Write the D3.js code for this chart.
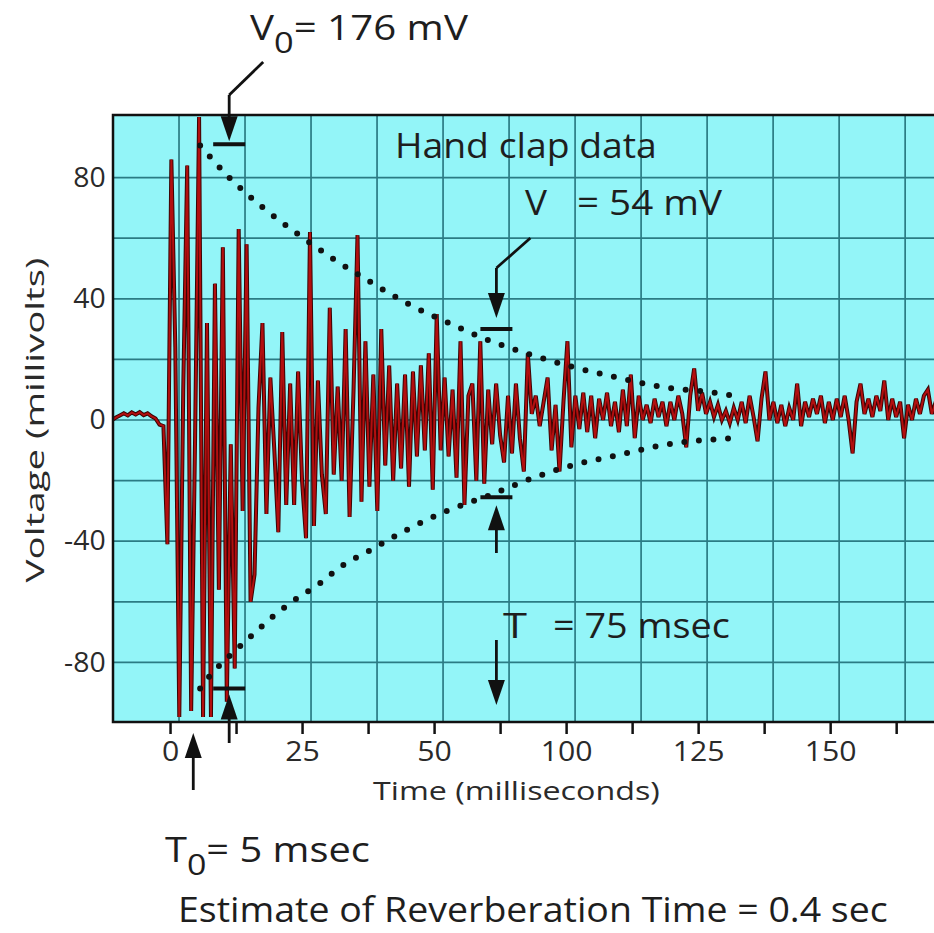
<!DOCTYPE html>
<html>
<head>
<meta charset="utf-8">
<script src="https://cdn.jsdelivr.net/npm/d3@7"></script>
<style>
  body { margin: 0; background: #fff; }
  svg { display: block; font-family: "Open Sans", sans-serif; }
</style>
</head>
<body>
<div id="chart"></div>
<script>
// hand clap recording, sampled every 0.75 ms starting at -11 ms (values in mV)
const signalStart = -11;
const signalStep = 0.75;
const signalValues = [
  0, 0.8, 1.5, 2.2, 1.5, 2.5, 1.8, 2.6, 1.6, 2.2, 1.2, 0.5, -1.5, -2,
  -41, 86, 24, -98, 10, 84, -96, -5, 100, -98, 32, -98, 45, -56, 57, -93,
  -8, -82, 63, -30, 58, -60, -51, 4, 32, -31, 14, -10, -37, 29, -28, 12,
  -28, 16, -20, -39, 62, -35, 13, -18, -31, 37, -18, 11, -20, 30, -32, 10,
  61, -27, 26, -22, 15, -30, 30, -15, 18, -20, 12, -16, 15, -22, 16, -12,
  18, -10, 22, -23, 35, -10, 14, -12, 10, -19, 26, -28, 8, 12, -20, 26,
  -21, 10, -8, 12, -5, -14, 8, -11, 12, -6, -17, 22, 2, 8, -2, 6,
  14, -10, 5, -17, 6, 26, -9, 8, -3, 9, -4, 8, -6, 7, 0, 9,
  -2, 6, -4, 10, -2, 15, -6, 8, 0, 5, -1, 7, 1, 6, -2, 6,
  0, 8, 2, -9, 8, 17, 3, 9, 2, 6, 1, 5, 0, 3, -1, 4,
  0, 6, -1, 8, 1, -7, 7, 16, 0, 6, -1, 5, -2, 4, 0, 12,
  -2, 6, 1, 7, 2, 8, -1, 6, 0, 7, 1, 8, 0, -11, 6, 12,
  2, 7, 1, 8, 3, 13, 0, 7, 1, 6, -6, 5, 0, 7, 2, 8,
  10, 2, 6, 3
];

// dotted decay envelopes [ms, mV]
const upperEnvelope = [
  [5.7, 90.6], [11.4, 79.7], [17.4, 70.4], [24.1, 61.5], [30.9, 53.2],
  [37.9, 45.6], [45.1, 38.3], [52.7, 32.1], [60.2, 26.4], [68.4, 21.5],
  [76.3, 17.5], [84.9, 13.9], [93.2, 10.9], [101.7, 9.3], [108.5, 7.5]
];
const lowerEnvelope = [
  [5.7, -88.6], [7.6, -84.3], [11.4, -77.7], [15.5, -71.1], [19.5, -64.8],
  [24.1, -58.8], [28.4, -53.9], [32.2, -48.6], [37.9, -43], [45.1, -36],
  [52.7, -29.8], [60.6, -24.8], [68.6, -19.2], [76.3, -14.9], [84.9, -11.6],
  [93.2, -8.3], [101.3, -6.6], [107.5, -6]
];

const xTicks = [0, 12.5, 25, 37.5, 50, 62.5, 75, 87.5, 100, 112.5, 125, 137.5];
const xTickLabels = ["0", "", "25", "", "50", "", "100", "", "125", "", "150", ""];
const xGrid = [1.7, 14.2, 26.7, 39.2, 51.7, 64.2, 76.7, 89.2, 101.7, 114.2, 126.7, 139.2];
const yTicks = [80, 40, 0, -40, -80];
const yGrid = [80, 60, 40, 20, 0, -20, -40, -60, -80];

// marker readings
const v0Time = 11.2, v0Upper = 91, v0Lower = -88.6;
const vTime = 61.8, vUpper = 30, vLower = -25.5;
const t0Time = 4.4;

const width = 934, height = 933;
const plot = { left: 113, top: 115, right: 940, bottom: 722 };

const svg = d3.select('#chart')
  .append('svg')
  .attr('width', width)
  .attr('height', height);

const xScale = d3.scaleLinear()
  .domain([-10.8, 145.8])
  .range([plot.left, plot.right]);

const yScale = d3.scaleLinear()
  .domain([-100, 100])
  .range([723, 117]);

// stretch a text horizontally so it spans w pixels from x0
function fitWidth(sel, x0, w) {
  const len = sel.node().getComputedTextLength();
  const sx = w / len;
  sel.attr('transform', 'translate(' + x0 + ',0) scale(' + sx + ',1) translate(' + (-x0) + ',0)');
}

svg.append('defs').append('clipPath')
  .attr('id', 'plot-clip')
  .append('rect')
  .attr('x', plot.left)
  .attr('y', plot.top)
  .attr('width', plot.right - plot.left)
  .attr('height', plot.bottom - plot.top);

// background
svg.append('rect')
  .attr('x', plot.left)
  .attr('y', plot.top)
  .attr('width', plot.right - plot.left)
  .attr('height', plot.bottom - plot.top)
  .attr('fill', '#93f5f8');

// grid
const grid = svg.append('g').attr('clip-path', 'url(#plot-clip)');
grid.selectAll('line.gx')
  .data(xGrid)
  .enter()
  .append('line')
  .attr('class', 'gx')
  .attr('x1', d => xScale(d))
  .attr('x2', d => xScale(d))
  .attr('y1', plot.top)
  .attr('y2', plot.bottom)
  .attr('stroke', '#2b7b84')
  .attr('stroke-width', 1.7);
grid.selectAll('line.gy')
  .data(yGrid)
  .enter()
  .append('line')
  .attr('class', 'gy')
  .attr('x1', plot.left)
  .attr('x2', plot.right)
  .attr('y1', d => yScale(d))
  .attr('y2', d => yScale(d))
  .attr('stroke', '#2b7b84')
  .attr('stroke-width', 1.7);

// signal
const signal = signalValues.map((v, i) => [signalStart + i * signalStep, v]);
const line = d3.line()
  .x(d => xScale(d[0]))
  .y(d => yScale(d[1]));

const wave = svg.append('g').attr('clip-path', 'url(#plot-clip)');
wave.append('path')
  .datum(signal)
  .attr('d', line)
  .attr('fill', 'none')
  .attr('stroke', '#3a0505')
  .attr('stroke-width', 4)
  .attr('stroke-linejoin', 'miter');
wave.append('path')
  .datum(signal)
  .attr('d', line)
  .attr('fill', 'none')
  .attr('stroke', '#b20f0f')
  .attr('stroke-width', 2);

// envelopes
const envLine = d3.line()
  .curve(d3.curveMonotoneX)
  .x(d => xScale(d[0]))
  .y(d => yScale(d[1]));
[upperEnvelope, lowerEnvelope].forEach(env => {
  wave.append('path')
    .datum(env)
    .attr('d', envLine)
    .attr('fill', 'none')
    .attr('stroke', '#111')
    .attr('stroke-width', 6)
    .attr('stroke-linecap', 'round')
    .attr('stroke-dasharray', '0 14.6');
});

// frame
svg.append('rect')
  .attr('x', plot.left)
  .attr('y', plot.top)
  .attr('width', plot.right - plot.left)
  .attr('height', plot.bottom - plot.top)
  .attr('fill', 'none')
  .attr('stroke', '#111')
  .attr('stroke-width', 2.5);

// axes
const xAxis = d3.axisBottom(xScale)
  .tickValues(xTicks)
  .tickSize(12)
  .tickSizeOuter(0)
  .tickPadding(8)
  .tickFormat((d, i) => xTickLabels[i]);
const gx = svg.append('g')
  .attr('transform', 'translate(0,' + plot.bottom + ')')
  .call(xAxis);
gx.select('.domain').remove();
gx.selectAll('.tick line').attr('stroke', '#111').attr('stroke-width', 2.5);
gx.selectAll('.tick text')
  .attr('fill', '#2a2a2a')
  .attr('transform', 'scale(1.12,1)')
  .style('font-size', '27px')
  .style('font-family', '"Open Sans", sans-serif');

const yAxis = d3.axisLeft(yScale)
  .tickValues(yTicks)
  .tickSize(0)
  .tickPadding(7)
  .tickFormat(d => String(d));
const gy = svg.append('g')
  .attr('transform', 'translate(' + plot.left + ',0)')
  .call(yAxis);
gy.select('.domain').remove();
gy.selectAll('.tick text')
  .attr('fill', '#2a2a2a')
  .attr('transform', 'scale(1.05,1)')
  .style('font-size', '27px')
  .style('font-family', '"Open Sans", sans-serif');

const xTitle = svg.append('text')
  .text('Time (milliseconds)')
  .attr('x', 373)
  .attr('y', 800)
  .attr('fill', '#2a2a2a')
  .style('font-size', '26px');
fitWidth(xTitle, 373, 287);

const yTitle = svg.append('text')
  .text('Voltage (millivolts)')
  .attr('text-anchor', 'middle')
  .attr('fill', '#2a2a2a')
  .style('font-size', '25px');
const yLen = yTitle.node().getComputedTextLength();
yTitle.attr('transform', 'translate(44,420) rotate(-90) scale(' + (325 / yLen) + ',1)');

// annotations
const ann = svg.append('g');
const ink = '#111';

function bar(t, v) {
  ann.append('line')
    .attr('x1', xScale(t) - 16)
    .attr('x2', xScale(t) + 16)
    .attr('y1', yScale(v))
    .attr('y2', yScale(v))
    .attr('stroke', ink)
    .attr('stroke-width', 4);
}

function arrow(x, yFrom, yTip) {
  const dir = yTip > yFrom ? 1 : -1;
  ann.append('line')
    .attr('x1', x).attr('x2', x)
    .attr('y1', yFrom).attr('y2', yTip - dir * 20)
    .attr('stroke', ink)
    .attr('stroke-width', 2.8);
  ann.append('path')
    .attr('d', 'M' + (x - 8.5) + ',' + (yTip - dir * 25) + 'L' + (x + 8.5) + ',' + (yTip - dir * 25) + 'L' + x + ',' + yTip + 'Z')
    .attr('fill', ink);
}

// V0 markers
bar(v0Time, v0Upper);
bar(v0Time, v0Lower);
const v0x = xScale(v0Time);
ann.append('path')
  .attr('d', 'M' + (v0x + 34) + ',62L' + v0x + ',95')
  .attr('stroke', ink).attr('stroke-width', 2.8).attr('fill', 'none');
arrow(v0x, 95, yScale(v0Upper) - 3);
arrow(v0x, 743, yScale(v0Lower) + 6);

// V markers
bar(vTime, vUpper);
bar(vTime, vLower);
const vx = xScale(vTime);
ann.append('path')
  .attr('d', 'M' + (vx + 34) + ',238L' + vx + ',268')
  .attr('stroke', ink).attr('stroke-width', 2.8).attr('fill', 'none');
arrow(vx, 268, yScale(vUpper) - 11);
arrow(vx, 553, yScale(vLower) + 8);

// T marker
arrow(vx, 640, 705);
// T0 marker
arrow(xScale(t0Time), 790, 733);

function label(x, y, w, parts) {
  const t = ann.append('text')
    .attr('x', x)
    .attr('y', y)
    .attr('fill', '#1e1e1e')
    .style('font-size', '34px');
  parts.forEach(p => {
    const s = t.append('tspan').text(p.text);
    if (p.dy) s.attr('dy', p.dy);
    if (p.size) s.style('font-size', p.size + 'px');
  });
  fitWidth(t, x, w);
  return t;
}

label(250, 40, 218, [{ text: 'V' }, { text: '0', dy: 13, size: 29 }, { text: '= 176 mV', dy: -13 }]);
label(395, 158, 262, [{ text: 'Hand clap data' }]);
label(525, 215, 22, [{ text: 'V' }]);
label(577, 215, 145, [{ text: '= 54 mV' }]);
label(503, 638, 24, [{ text: 'T' }]);
label(553, 638, 177, [{ text: '= 75 msec' }]);
label(165, 862, 205, [{ text: 'T' }, { text: '0', dy: 13, size: 29 }, { text: '= 5 msec', dy: -13 }]);
label(178, 922, 710, [{ text: 'Estimate of Reverberation Time = 0.4 sec' }]);
</script>
</body>
</html>
